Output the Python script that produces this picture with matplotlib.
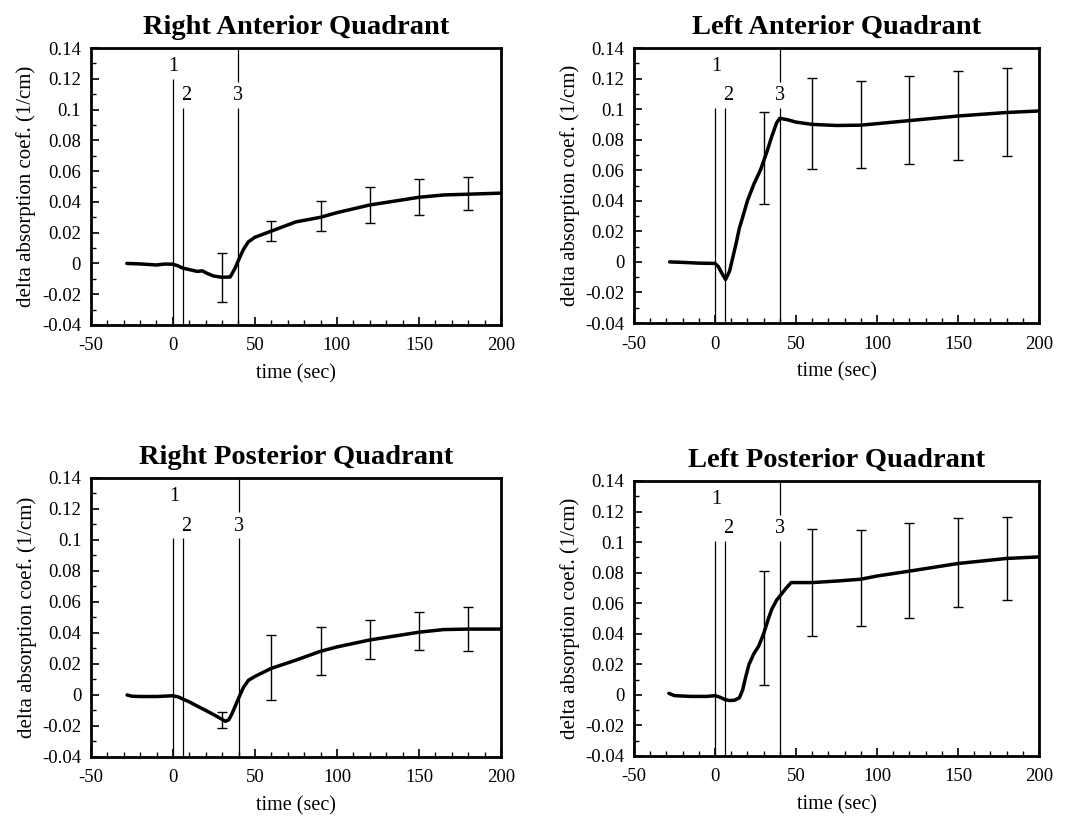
import matplotlib
matplotlib.use("Agg")
import matplotlib.pyplot as plt
from matplotlib.ticker import MultipleLocator, FuncFormatter

plt.rcParams['font.family'] = ['Liberation Serif', 'DejaVu Serif']
plt.rcParams['axes.unicode_minus'] = False

titles = ["Right Anterior Quadrant", "Left Anterior Quadrant",
          "Right Posterior Quadrant", "Left Posterior Quadrant"]

# Curves (time in s, delta absorption coef. in 1/cm)
ra_t = [-28, -20, -10, -5, 0, 3, 6, 10, 15, 18, 21, 25, 30, 35, 38, 40, 43, 46, 50, 60, 75, 90, 100, 120, 150, 165, 180, 200]
ra_y = [0.0, -0.0003, -0.001, -0.0004, -0.0005, -0.0015, -0.003, -0.004, -0.0052, -0.0048, -0.0065, -0.0082, -0.009, -0.0088, -0.003, 0.002, 0.009, 0.014, 0.017, 0.021, 0.027, 0.030, 0.033, 0.038, 0.043, 0.0445, 0.045, 0.0457]

la_t = [-28, -20, -10, 0, 2, 4, 6.5, 9, 11, 13, 15, 17, 20, 24, 28, 32, 35, 38, 40, 45, 50, 60, 75, 90, 100, 120, 150, 180, 200]
la_y = [0.0, -0.0003, -0.0008, -0.001, -0.003, -0.007, -0.0115, -0.006, 0.003, 0.012, 0.022, 0.029, 0.040, 0.051, 0.060, 0.072, 0.082, 0.091, 0.094, 0.093, 0.0915, 0.090, 0.0893, 0.0895, 0.0905, 0.0925, 0.0955, 0.0978, 0.0988]

rp_t = [-28, -25, -20, -10, 0, 3, 6, 10, 15, 20, 25, 30, 32, 34, 36, 38, 40, 43, 46, 50, 60, 75, 90, 100, 120, 150, 165, 180, 200]
rp_y = [0.0, -0.0008, -0.001, -0.001, -0.0005, -0.0012, -0.0026, -0.0045, -0.0073, -0.010, -0.0128, -0.0158, -0.017, -0.016, -0.012, -0.007, -0.002, 0.005, 0.0095, 0.012, 0.0172, 0.0225, 0.0282, 0.031, 0.0355, 0.0405, 0.0422, 0.0425, 0.0425]

lp_t = [-28.5, -25, -15, -5, 0, 3, 6, 9, 12, 15, 17, 19, 21, 24, 27, 30, 33, 35, 38, 41, 44, 47, 60, 75, 90, 100, 120, 150, 180, 200]
lp_y = [0.001, -0.0005, -0.001, -0.001, -0.0005, -0.0015, -0.003, -0.0037, -0.0035, -0.002, 0.003, 0.012, 0.020, 0.027, 0.032, 0.040, 0.050, 0.056, 0.062, 0.066, 0.070, 0.0735, 0.0735, 0.0745, 0.0757, 0.0778, 0.081, 0.086, 0.0893, 0.0903]

# Error bars (time, lower, upper)
err_t = [30, 60, 90, 120, 150, 180]
ra_lo = [-0.025, 0.0147, 0.0212, 0.0262, 0.0316, 0.0347]
ra_hi = [0.0068, 0.0277, 0.0403, 0.0500, 0.0548, 0.0559]
la_lo = [0.0379, 0.0608, 0.0612, 0.0639, 0.0667, 0.0696]
la_hi = [0.0984, 0.1203, 0.1186, 0.1216, 0.1247, 0.1266]
rp_lo = [-0.0213, -0.003, 0.0131, 0.0232, 0.0288, 0.0282]
rp_hi = [-0.011, 0.0385, 0.0439, 0.0486, 0.0533, 0.0568]
lp_lo = [0.0067, 0.0388, 0.0454, 0.0506, 0.0572, 0.0624]
lp_hi = [0.081, 0.1085, 0.1078, 0.1122, 0.1155, 0.1166]

# Event markers
event_t = [0, 6, 40]
event_labels = ["1", "2", "3"]
event1_top = [0.12, 0.101, 0.101, 0.101]

curves = [(ra_t, ra_y), (la_t, la_y), (rp_t, rp_y), (lp_t, lp_y)]
errs = [(ra_lo, ra_hi), (la_lo, la_hi), (rp_lo, rp_hi), (lp_lo, lp_hi)]

positions = [
    [0.085, 0.6027, 0.3846, 0.3386],
    [0.5942, 0.6051, 0.3796, 0.3362],
    [0.0853, 0.0746, 0.3843, 0.3411],
    [0.5942, 0.0758, 0.3796, 0.3362],
]

fig = plt.figure(figsize=(10.67, 8.18), dpi=100)

def fmt(v, pos):
    return "%g" % round(v, 3)

for i in range(4):
    ax = fig.add_axes(positions[i])
    t, y = curves[i]
    lo, hi = errs[i]
    ymin, ymax = -0.04, 0.14
    # event lines
    ax.vlines(event_t[0], ymin, event1_top[i], color='black', lw=0.9)
    ax.vlines(event_t[1], ymin, 0.101, color='black', lw=0.9)
    ax.vlines(event_t[2], ymin, 0.101, color='black', lw=0.9)
    ax.vlines(event_t[2], 0.118, ymax, color='black', lw=0.9)
    ax.text(event_t[0] + 0.5, 0.128, event_labels[0], ha='center', va='center', fontsize=14.5)
    ax.text(event_t[1] + 2.0, 0.109, event_labels[1], ha='center', va='center', fontsize=14.5)
    ax.text(event_t[2], 0.109, event_labels[2], ha='center', va='center', fontsize=14.5)
    # error bars
    mid = [(a + b) / 2 for a, b in zip(lo, hi)]
    half = [(b - a) / 2 for a, b in zip(lo, hi)]
    ax.errorbar(err_t, mid, yerr=half, fmt='none', ecolor='black', elinewidth=1.0,
                capsize=3.5, capthick=1.0)
    # curve
    ax.plot(t, y, color='black', lw=2.5, solid_capstyle='round', solid_joinstyle='round')

    ax.set_xlim(-50, 200)
    ax.set_ylim(ymin, ymax)
    ax.xaxis.set_major_locator(MultipleLocator(50))
    ax.xaxis.set_minor_locator(MultipleLocator(10))
    ax.yaxis.set_major_locator(MultipleLocator(0.02))
    ax.yaxis.set_minor_locator(MultipleLocator(0.01))
    ax.yaxis.set_major_formatter(FuncFormatter(fmt))
    ax.tick_params(which='both', direction='in', top=False, right=False, labelsize=13.5)
    ax.tick_params(which='major', length=6, width=1.2)
    ax.tick_params(which='minor', length=3.5, width=1.0)
    ax.tick_params(axis='x', pad=9)
    ax.tick_params(axis='y', pad=7)
    for sp in ax.spines.values():
        sp.set_linewidth(2.0)
    ax.set_xlabel("time (sec)", fontsize=14.5, labelpad=7)
    ax.set_ylabel("delta absorption coef. (1/cm)", fontsize=15, labelpad=4)
    ax.set_title(titles[i], fontsize=20.5, fontweight='bold', pad=10)

fig.savefig("out.png", dpi=100)
